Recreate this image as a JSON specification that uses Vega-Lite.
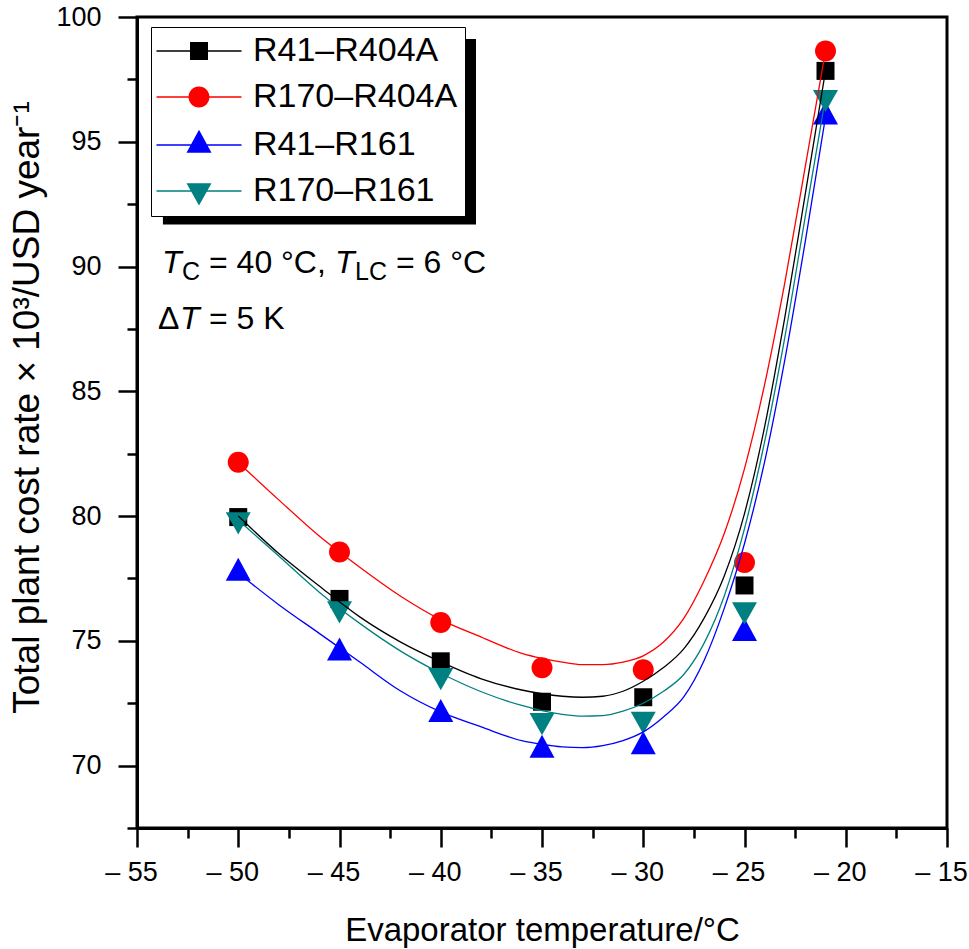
{
  "$schema": "https://vega.github.io/schema/vega-lite/v6.json",
  "autosize": {"type": "none"},
  "padding": {"left": 137, "top": 17, "right": 22, "bottom": 121},
  "width": 810,
  "height": 811,
  "background": "white",
  "config": {
    "font": "Liberation Sans",
    "view": {"stroke": "black", "strokeWidth": 3},
    "axis": {
      "grid": false,
      "domainColor": "black",
      "domainWidth": 3,
      "tickColor": "black",
      "tickWidth": 2.5,
      "labelColor": "black",
      "titleColor": "black",
      "labelFont": "Liberation Sans",
      "titleFont": "Liberation Sans",
      "labelFontSize": 27,
      "titleFontWeight": "normal",
      "labelOverlap": false,
      "labelFlush": false
    },
    "legend": {
      "labelFont": "Liberation Sans",
      "labelFontSize": 34,
      "labelColor": "black",
      "labelLimit": 400
    }
  },
  "resolve": {"scale": {"color": "independent", "shape": "independent"}},
  "datasets": {
    "pts": [
      {"series": "R41–R404A", "temp": -50, "cost": 79.96},
      {"series": "R41–R404A", "temp": -45, "cost": 76.68},
      {"series": "R41–R404A", "temp": -40, "cost": 74.18},
      {"series": "R41–R404A", "temp": -35, "cost": 72.56},
      {"series": "R41–R404A", "temp": -30, "cost": 72.74},
      {"series": "R41–R404A", "temp": -25, "cost": 77.22},
      {"series": "R41–R404A", "temp": -21, "cost": 97.84},
      {"series": "R170–R404A", "temp": -50, "cost": 82.16},
      {"series": "R170–R404A", "temp": -45, "cost": 78.56},
      {"series": "R170–R404A", "temp": -40, "cost": 75.74},
      {"series": "R170–R404A", "temp": -35, "cost": 73.92},
      {"series": "R170–R404A", "temp": -30, "cost": 73.84},
      {"series": "R170–R404A", "temp": -25, "cost": 78.14},
      {"series": "R170–R404A", "temp": -21, "cost": 98.64},
      {"series": "R41–R161", "temp": -50, "cost": 77.72},
      {"series": "R41–R161", "temp": -45, "cost": 74.52},
      {"series": "R41–R161", "temp": -40, "cost": 72.06},
      {"series": "R41–R161", "temp": -35, "cost": 70.62},
      {"series": "R41–R161", "temp": -30, "cost": 70.76},
      {"series": "R41–R161", "temp": -25, "cost": 75.3},
      {"series": "R41–R161", "temp": -21, "cost": 96.0},
      {"series": "R170–R161", "temp": -50, "cost": 79.84},
      {"series": "R170–R161", "temp": -45, "cost": 76.28},
      {"series": "R170–R161", "temp": -40, "cost": 73.6},
      {"series": "R170–R161", "temp": -35, "cost": 71.8},
      {"series": "R170–R161", "temp": -30, "cost": 71.85},
      {"series": "R170–R161", "temp": -25, "cost": 76.24},
      {"series": "R170–R161", "temp": -21, "cost": 96.77}
    ],
    "fit": [
      {"series": "R41–R404A", "temp": -50, "cost": 80.0},
      {"series": "R41–R404A", "temp": -48, "cost": 78.5},
      {"series": "R41–R404A", "temp": -46, "cost": 77.2},
      {"series": "R41–R404A", "temp": -44, "cost": 75.96},
      {"series": "R41–R404A", "temp": -42, "cost": 74.96},
      {"series": "R41–R404A", "temp": -40, "cost": 74.16},
      {"series": "R41–R404A", "temp": -38, "cost": 73.48},
      {"series": "R41–R404A", "temp": -36, "cost": 73.03},
      {"series": "R41–R404A", "temp": -35, "cost": 72.88},
      {"series": "R41–R404A", "temp": -34, "cost": 72.78},
      {"series": "R41–R404A", "temp": -33, "cost": 72.74},
      {"series": "R41–R404A", "temp": -32, "cost": 72.78},
      {"series": "R41–R404A", "temp": -31, "cost": 72.98},
      {"series": "R41–R404A", "temp": -30, "cost": 73.38},
      {"series": "R41–R404A", "temp": -29, "cost": 73.93},
      {"series": "R41–R404A", "temp": -28, "cost": 74.68},
      {"series": "R41–R404A", "temp": -27, "cost": 75.9},
      {"series": "R41–R404A", "temp": -26, "cost": 77.6},
      {"series": "R41–R404A", "temp": -25, "cost": 80.1},
      {"series": "R41–R404A", "temp": -24, "cost": 83.6},
      {"series": "R41–R404A", "temp": -23, "cost": 88.0},
      {"series": "R41–R404A", "temp": -22, "cost": 92.9},
      {"series": "R41–R404A", "temp": -21, "cost": 97.84},
      {"series": "R170–R404A", "temp": -50, "cost": 82.15},
      {"series": "R170–R404A", "temp": -48, "cost": 80.65},
      {"series": "R170–R404A", "temp": -46, "cost": 79.2},
      {"series": "R170–R404A", "temp": -44, "cost": 77.95},
      {"series": "R170–R404A", "temp": -42, "cost": 76.8},
      {"series": "R170–R404A", "temp": -40, "cost": 75.85},
      {"series": "R170–R404A", "temp": -38, "cost": 75.15},
      {"series": "R170–R404A", "temp": -36, "cost": 74.5},
      {"series": "R170–R404A", "temp": -35, "cost": 74.3},
      {"series": "R170–R404A", "temp": -34, "cost": 74.15},
      {"series": "R170–R404A", "temp": -33, "cost": 74.05},
      {"series": "R170–R404A", "temp": -32, "cost": 74.05},
      {"series": "R170–R404A", "temp": -31, "cost": 74.15},
      {"series": "R170–R404A", "temp": -30, "cost": 74.4},
      {"series": "R170–R404A", "temp": -29, "cost": 74.95},
      {"series": "R170–R404A", "temp": -28, "cost": 75.9},
      {"series": "R170–R404A", "temp": -27, "cost": 77.4},
      {"series": "R170–R404A", "temp": -26, "cost": 79.3},
      {"series": "R170–R404A", "temp": -25, "cost": 81.9},
      {"series": "R170–R404A", "temp": -24, "cost": 85.3},
      {"series": "R170–R404A", "temp": -23, "cost": 89.4},
      {"series": "R170–R404A", "temp": -22, "cost": 94.0},
      {"series": "R170–R404A", "temp": -21, "cost": 98.64},
      {"series": "R41–R161", "temp": -50, "cost": 77.72},
      {"series": "R41–R161", "temp": -48, "cost": 76.45},
      {"series": "R41–R161", "temp": -46, "cost": 75.3},
      {"series": "R41–R161", "temp": -44, "cost": 74.15},
      {"series": "R41–R161", "temp": -42, "cost": 73.0},
      {"series": "R41–R161", "temp": -40, "cost": 72.15},
      {"series": "R41–R161", "temp": -38, "cost": 71.55},
      {"series": "R41–R161", "temp": -36, "cost": 71.0},
      {"series": "R41–R161", "temp": -35, "cost": 70.85},
      {"series": "R41–R161", "temp": -34, "cost": 70.75},
      {"series": "R41–R161", "temp": -33, "cost": 70.72},
      {"series": "R41–R161", "temp": -32, "cost": 70.8},
      {"series": "R41–R161", "temp": -31, "cost": 71.0},
      {"series": "R41–R161", "temp": -30, "cost": 71.35},
      {"series": "R41–R161", "temp": -29, "cost": 71.95},
      {"series": "R41–R161", "temp": -28, "cost": 72.75},
      {"series": "R41–R161", "temp": -27, "cost": 74.2},
      {"series": "R41–R161", "temp": -26, "cost": 76.3},
      {"series": "R41–R161", "temp": -25, "cost": 78.9},
      {"series": "R41–R161", "temp": -24, "cost": 82.2},
      {"series": "R41–R161", "temp": -23, "cost": 86.3},
      {"series": "R41–R161", "temp": -22, "cost": 91.0},
      {"series": "R41–R161", "temp": -21, "cost": 96.0},
      {"series": "R170–R161", "temp": -50, "cost": 79.84},
      {"series": "R170–R161", "temp": -48, "cost": 78.4},
      {"series": "R170–R161", "temp": -46, "cost": 76.95},
      {"series": "R170–R161", "temp": -44, "cost": 75.7},
      {"series": "R170–R161", "temp": -42, "cost": 74.6},
      {"series": "R170–R161", "temp": -40, "cost": 73.7},
      {"series": "R170–R161", "temp": -38, "cost": 72.96},
      {"series": "R170–R161", "temp": -36, "cost": 72.41},
      {"series": "R170–R161", "temp": -35, "cost": 72.2},
      {"series": "R170–R161", "temp": -34, "cost": 72.05},
      {"series": "R170–R161", "temp": -33, "cost": 71.98},
      {"series": "R170–R161", "temp": -32, "cost": 72.0},
      {"series": "R170–R161", "temp": -31, "cost": 72.18},
      {"series": "R170–R161", "temp": -30, "cost": 72.5},
      {"series": "R170–R161", "temp": -29, "cost": 72.98},
      {"series": "R170–R161", "temp": -28, "cost": 73.65},
      {"series": "R170–R161", "temp": -27, "cost": 74.9},
      {"series": "R170–R161", "temp": -26, "cost": 76.8},
      {"series": "R170–R161", "temp": -25, "cost": 79.5},
      {"series": "R170–R161", "temp": -24, "cost": 83.0},
      {"series": "R170–R161", "temp": -23, "cost": 87.2},
      {"series": "R170–R161", "temp": -22, "cost": 92.0},
      {"series": "R170–R161", "temp": -21, "cost": 96.77}
    ]
  },
  "layer": [
    {
      "data": {"values": [{}]},
      "mark": {"type": "rect", "color": "black"},
      "encoding": {
        "x": {"datum": -53.72, "type": "quantitative"},
        "x2": {"datum": -38.26},
        "y": {"datum": 99.12, "type": "quantitative"},
        "y2": {"datum": 91.68}
      }
    },
    {
      "data": {"name": "pts"},
      "mark": {"type": "point", "filled": true, "opacity": 1, "size": 400},
      "encoding": {
        "x": {
          "field": "temp", "type": "quantitative",
          "scale": {"domain": [-55, -15], "nice": false, "zero": false},
          "axis": {
            "orient": "bottom",
            "title": "Evaporator temperature/°C",
            "titleFontSize": 33,
            "titleBaseline": "alphabetic",
            "titleY": 112,
            "values": [-55, -52.5, -50, -47.5, -45, -42.5, -40, -37.5, -35, -32.5, -30, -27.5, -25, -22.5, -20, -17.5, -15],
            "labelExpr": "datum.value % 5 === 0 ? '– ' + abs(datum.value) : ''",
            "tickSize": {"condition": {"test": "datum.value % 5 === 0", "value": 19}, "value": 10},
            "labelPadding": 12,
            "labelOffset": -6
          }
        },
        "y": {
          "field": "cost", "type": "quantitative",
          "scale": {"domain": [67.5, 100], "nice": false, "zero": false},
          "axis": {
            "orient": "left",
            "title": "Total plant cost rate × 10³/USD year⁻¹",
            "titleFontSize": 37,
            "titleBaseline": "alphabetic",
            "titleAlign": "center",
            "titleX": -99,
            "titleY": 390,
            "values": [67.5, 70, 72.5, 75, 77.5, 80, 82.5, 85, 87.5, 90, 92.5, 95, 97.5, 100],
            "labelExpr": "datum.value % 5 === 0 ? datum.label : ''",
            "tickSize": {"condition": {"test": "datum.value % 5 === 0", "value": 19}, "value": 10},
            "labelPadding": 17
          }
        },
        "color": {
          "field": "series", "type": "nominal",
          "scale": {"domain": ["R41–R404A", "R170–R404A", "R41–R161", "R170–R161"], "range": ["#000000", "#ff0000", "#0000ff", "#008080"]},
          "legend": null
        },
        "shape": {
          "field": "series", "type": "nominal",
          "scale": {
            "domain": ["R41–R404A", "R170–R404A", "R41–R161", "R170–R161"],
            "range": [
              "M-0.9,-0.9H0.9V0.9H-0.9Z",
              "M-1.05,0A1.05,1.05,0,1,1,1.05,0A1.05,1.05,0,1,1,-1.05,0Z",
              "M0,-1.53L1.25,0.77L-1.25,0.77Z",
              "M-1.25,-0.77L1.25,-0.77L0,1.45Z"
            ]
          },
          "legend": null
        }
      }
    },
    {
      "data": {"name": "fit"},
      "mark": {"type": "line", "interpolate": "monotone", "strokeWidth": 1.3},
      "encoding": {
        "x": {"field": "temp", "type": "quantitative"},
        "y": {"field": "cost", "type": "quantitative"},
        "color": {
          "field": "series", "type": "nominal",
          "scale": {"domain": ["R41–R404A", "R170–R404A", "R41–R161", "R170–R161"], "range": ["#000000", "#ff0000", "#0000ff", "#008080"]},
          "legend": null
        }
      }
    },
    {
      "data": {"name": "pts"},
      "mark": {"type": "point", "filled": true, "opacity": 0, "size": 400},
      "encoding": {
        "x": {"field": "temp", "type": "quantitative"},
        "y": {"field": "cost", "type": "quantitative"},
        "color": {
          "field": "series", "type": "nominal",
          "scale": {"domain": ["R41–R404A", "R170–R404A", "R41–R161", "R170–R161"], "range": ["#000000", "#ff0000", "#0000ff", "#008080"]},
          "legend": {
            "title": null, "orient": "none", "legendX": 14, "legendY": 10, "zindex": 1,
            "padding": 7, "fillColor": "white", "strokeColor": "black",
            "symbolSize": 400, "symbolOpacity": 1, "symbolOffset": 24,
            "labelOffset": 37, "rowPadding": 12
          }
        },
        "shape": {
          "field": "series", "type": "nominal",
          "scale": {
            "domain": ["R41–R404A", "R170–R404A", "R41–R161", "R170–R161"],
            "range": [
              "M-4.25,-0.07H4.25V0.07H-4.25ZM-0.9,-0.9H0.9V0.9H-0.9Z",
              "M-4.25,-0.07H4.25V0.07H-4.25ZM-1.05,0A1.05,1.05,0,1,1,1.05,0A1.05,1.05,0,1,1,-1.05,0Z",
              "M-4.25,-0.07H4.25V0.07H-4.25ZM0,-1.53L1.25,0.77L-1.25,0.77Z",
              "M-4.25,-0.07H4.25V0.07H-4.25ZM-1.25,-0.77L1.25,-0.77L0,1.45Z"
            ]
          },
          "legend": {
            "title": null, "orient": "none", "legendX": 14, "legendY": 10, "zindex": 1,
            "padding": 7, "fillColor": "white", "strokeColor": "black",
            "symbolSize": 400, "symbolOpacity": 1, "symbolOffset": 24,
            "labelOffset": 37, "rowPadding": 12
          }
        }
      }
    },
    {
      "data": {"values": [{}]},
      "mark": {"type": "text", "text": "T", "fontStyle": "italic", "fontSize": 32, "align": "left", "baseline": "alphabetic", "color": "black"},
      "encoding": {"x": {"datum": -53.765, "type": "quantitative"}, "y": {"datum": 89.76, "type": "quantitative"}}
    },
    {
      "data": {"values": [{}]},
      "mark": {"type": "text", "text": "C", "fontSize": 25, "align": "left", "baseline": "alphabetic", "color": "black"},
      "encoding": {"x": {"datum": -52.778, "type": "quantitative"}, "y": {"datum": 89.48, "type": "quantitative"}}
    },
    {
      "data": {"values": [{}]},
      "mark": {"type": "text", "text": "= 40 °C,", "fontSize": 32, "align": "left", "baseline": "alphabetic", "color": "black"},
      "encoding": {"x": {"datum": -51.444, "type": "quantitative"}, "y": {"datum": 89.76, "type": "quantitative"}}
    },
    {
      "data": {"values": [{}]},
      "mark": {"type": "text", "text": "T", "fontStyle": "italic", "fontSize": 32, "align": "left", "baseline": "alphabetic", "color": "black"},
      "encoding": {"x": {"datum": -45.222, "type": "quantitative"}, "y": {"datum": 89.76, "type": "quantitative"}}
    },
    {
      "data": {"values": [{}]},
      "mark": {"type": "text", "text": "LC", "fontSize": 25, "align": "left", "baseline": "alphabetic", "color": "black"},
      "encoding": {"x": {"datum": -44.235, "type": "quantitative"}, "y": {"datum": 89.48, "type": "quantitative"}}
    },
    {
      "data": {"values": [{}]},
      "mark": {"type": "text", "text": "= 6 °C", "fontSize": 32, "align": "left", "baseline": "alphabetic", "color": "black"},
      "encoding": {"x": {"datum": -42.21, "type": "quantitative"}, "y": {"datum": 89.76, "type": "quantitative"}}
    },
    {
      "data": {"values": [{}]},
      "mark": {"type": "text", "text": "Δ", "fontSize": 32, "align": "left", "baseline": "alphabetic", "color": "black"},
      "encoding": {"x": {"datum": -53.963, "type": "quantitative"}, "y": {"datum": 87.48, "type": "quantitative"}}
    },
    {
      "data": {"values": [{}]},
      "mark": {"type": "text", "text": "T", "fontStyle": "italic", "fontSize": 32, "align": "left", "baseline": "alphabetic", "color": "black"},
      "encoding": {"x": {"datum": -52.877, "type": "quantitative"}, "y": {"datum": 87.48, "type": "quantitative"}}
    },
    {
      "data": {"values": [{}]},
      "mark": {"type": "text", "text": "= 5 K", "fontSize": 32, "align": "left", "baseline": "alphabetic", "color": "black"},
      "encoding": {"x": {"datum": -51.444, "type": "quantitative"}, "y": {"datum": 87.48, "type": "quantitative"}}
    }
  ]
}
